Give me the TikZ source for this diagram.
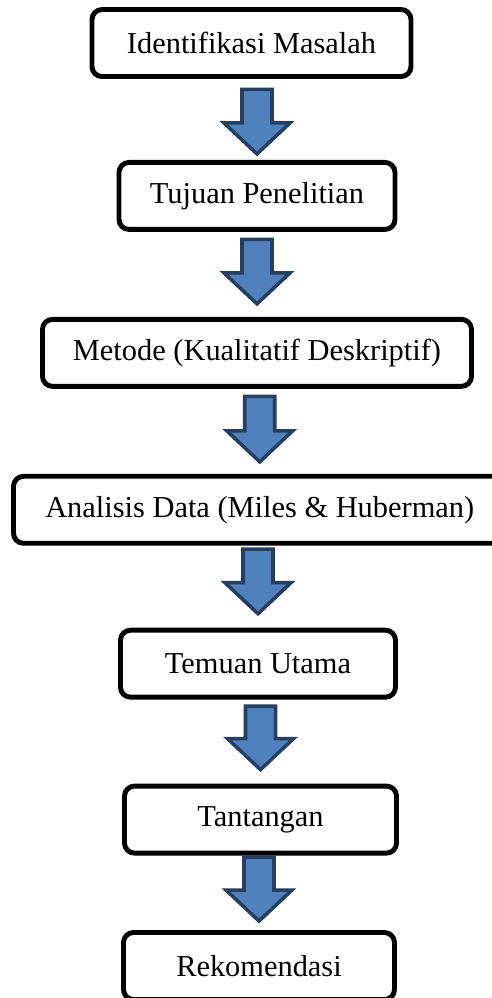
\documentclass[tikz,border=0pt]{standalone}
\usepackage{fontspec}
\setmainfont{Liberation Serif}
\usetikzlibrary{positioning, calc}
\definecolor{arrfill}{HTML}{4F81BD}
\definecolor{arrline}{HTML}{243F60}
\begin{document}
\begin{tikzpicture}[
        node distance=1.6cm,
        stepbox/.style={rectangle, rounded corners=0.2cm, draw=black, line width=2.8pt, fill=white, minimum height=1.34cm, align=center, font=\fontsize{17.3}{20}\selectfont},
        blockarr/.style={draw=arrline, fill=arrfill, line width=2pt, line join=miter,
            to path={let \p1=(\tikztostart), \p2=(\tikztotarget) in
                (\x2-0.30cm,\y1) -- (\x2+0.30cm,\y1) -- (\x2+0.30cm,\y2+0.62cm) -- (\x2+0.66cm,\y2+0.62cm)
                -- (\x2,\y2) -- (\x2-0.66cm,\y2+0.62cm) -- (\x2-0.30cm,\y2+0.62cm) -- cycle}},
    ]
        \useasboundingbox (0,0) rectangle (9.84,-19.96);

        \node[stepbox, minimum width=6.38cm] at (5.03,-0.86) (iden) {Identifikasi Masalah};
        \node[stepbox, minimum width=5.52cm, below=1.62cm of iden, xshift=0.11cm] (tuju) {Tujuan Penelitian};
        \node[stepbox, minimum width=8.58cm, below=1.70cm of tuju] (meto) {Metode (Kualitatif Deskriptif)};
        \node[stepbox, minimum width=9.85cm, below=1.70cm of meto, xshift=0.055cm] (anal) {Analisis Data (Miles \& Huberman)};
        \node[stepbox, minimum width=5.50cm, below=1.64cm of anal, xshift=-0.035cm] (temu) {Temuan Utama};
        \node[stepbox, minimum width=5.44cm, below=1.68cm of temu, xshift=0.05cm] (tant) {Tantangan};
        \node[stepbox, minimum width=5.42cm, below=1.49cm of tant, xshift=-0.03cm] (reko) {Rekomendasi};

        % block arrows between the steps
        \draw[blockarr] ([yshift=-0.21cm]iden.south) to ([yshift=0.12cm]tuju.north);
        \draw[blockarr] ([yshift=-0.15cm]tuju.south) to ([yshift=0.26cm]meto.north);
        \draw[blockarr] ([yshift=-0.15cm]meto.south) to ([yshift=0.24cm]anal.north);
        \draw[blockarr] ([yshift=-0.07cm]anal.south) to ([yshift=0.28cm]temu.north);
        \draw[blockarr] ([yshift=-0.13cm]temu.south) to ([yshift=0.28cm]tant.north);
        \draw[blockarr] ([yshift=-0.03cm]tant.south) to ([yshift=0.18cm]reko.north);
    \end{tikzpicture}
\end{document}
